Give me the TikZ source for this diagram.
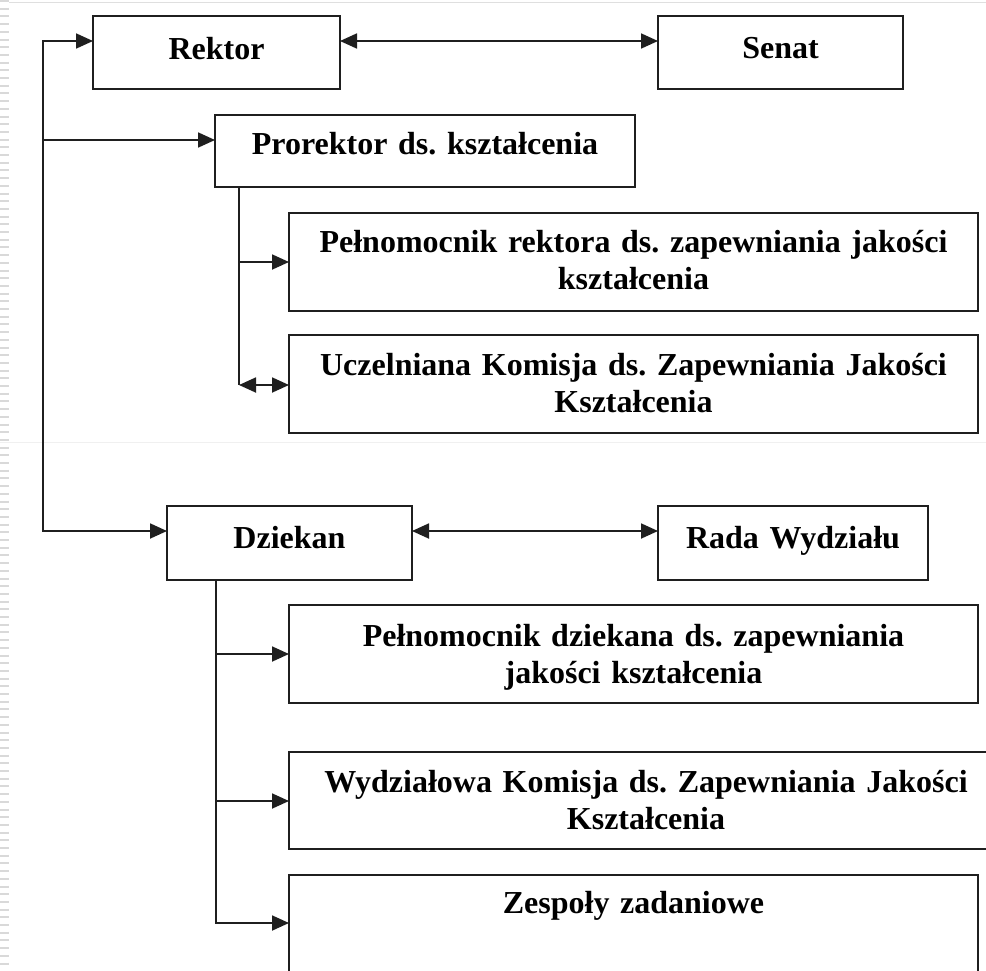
\documentclass[tikz,border=0pt]{standalone}
\usepackage{fontspec}
\setmainfont{Liberation Serif}
\usetikzlibrary{arrows.meta}
\begin{document}
\frenchspacing
\begin{tikzpicture}[x=1pt,y=-1pt,
  box/.style={draw=black!88, line width=1.8pt, inner sep=0pt, outer sep=0pt, anchor=north west},
  lbl/.style={font=\fontsize{32}{37}\selectfont\bfseries\frenchspacing, text width=760pt, align=center, anchor=base, inner sep=0pt},
  conn/.style={draw=black!88, line width=1.8pt, line join=miter},
  arr/.style={conn, -{Triangle[length=17pt,width=15pt]}},
  arrb/.style={conn, {Triangle[length=17pt,width=15pt]}-{Triangle[length=17pt,width=15pt]}},
]
\useasboundingbox (0,0) rectangle (986,970);
\clip (0,0) rectangle (986,970);
\fill[white] (0,0) rectangle (986,970);
% slide decorations
\draw[gray!30, line width=9pt, dash pattern=on 2pt off 5.7pt] (4.5,0) -- (4.5,970);
\draw[gray!25, line width=1.5pt] (9,2.5) -- (986,2.5);
\draw[gray!12, line width=1pt] (0,442) -- (986,442);

% boxes
\node[box, minimum width=247pt, minimum height=73pt] (rektor) at (93,16) {};
\node[box, minimum width=245pt, minimum height=73pt] (senat) at (658,16) {};
\node[box, minimum width=420pt, minimum height=72pt] (prorektor) at (215,115) {};
\node[box, minimum width=689pt, minimum height=98pt] (pelr) at (289,213) {};
\node[box, minimum width=689pt, minimum height=98pt] (ucz) at (289,335) {};
\node[box, minimum width=245pt, minimum height=74pt] (dziekan) at (167,506) {};
\node[box, minimum width=270pt, minimum height=74pt] (rada) at (658,506) {};
\node[box, minimum width=689pt, minimum height=98pt] (peld) at (289,605) {};
\node[box, minimum width=714pt, minimum height=97pt] (wydz) at (289,752) {};
\node[box, minimum width=689pt, minimum height=97pt] (zesp) at (289,875) {};

% labels
\node[lbl] (rektor-t) at (216.5,59) {Rektor};
\node[lbl] (senat-t) at (780.5,58) {Senat};
\node[lbl] (prorektor-t) at (425,154) {Prorektor ds. kształcenia};
\node[lbl] (pelr-t) at (633.5,252) {Pełnomocnik rektora ds. zapewniania jakości\\kształcenia};
\node[lbl] (ucz-t) at (633.5,375) {Uczelniana Komisja ds. Zapewniania Jakości\\Kształcenia};
\node[lbl] (dziekan-t) at (289.5,548) {Dziekan};
\node[lbl] (rada-t) at (793,548) {Rada Wydziału};
\node[lbl] (peld-t) at (633.5,646) {Pełnomocnik dziekana ds. zapewniania\\jakości kształcenia};
\node[lbl] (wydz-t) at (646,792) {Wydziałowa Komisja ds. Zapewniania Jakości\\Kształcenia};
\node[lbl] (zesp-t) at (633.5,913) {Zespoły zadaniowe};

% connectors
\coordinate (s1) at (43,41);
\coordinate (s2) at (43,140);
\coordinate (s3) at (43,531);
\draw[arrb] (s1 -| rektor.west) -- (s1) -- (s3) -- (s3 -| dziekan.west);
\draw[arr] (s2) -- (s2 -| prorektor.west);
\draw[arrb] (s1 -| rektor.east) -- (s1 -| senat.west);
\draw[arrb] (s3 -| dziekan.east) -- (s3 -| rada.west);

\coordinate (p1) at (239,262);
\coordinate (p2) at (239,385);
\draw[conn] (prorektor.south -| p2) -- (p2);
\draw[arr] (p1) -- (p1 -| pelr.west);
\draw[arrb] (p2) -- (p2 -| ucz.west);

\coordinate (d1) at (216,654);
\coordinate (d2) at (216,801);
\coordinate (d3) at (216,923);
\draw[arr] (dziekan.south -| d3) -- (d3) -- (d3 -| zesp.west);
\draw[arr] (d1) -- (d1 -| peld.west);
\draw[arr] (d2) -- (d2 -| wydz.west);
\end{tikzpicture}
\end{document}
